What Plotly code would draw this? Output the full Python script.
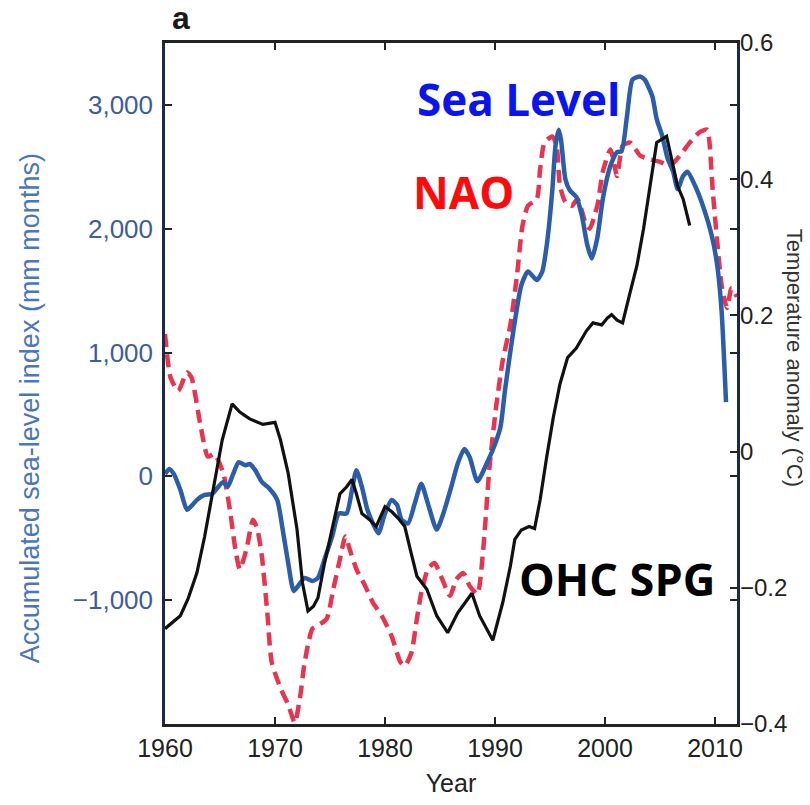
import plotly.graph_objects as go

# Accumulated sea-level index (mm months), left axis
sl_year = [1960.0, 1960.4, 1960.8, 1961.4, 1962.0, 1962.5, 1962.9, 1963.6, 1964.3, 1964.7,
           1965.3, 1965.7, 1966.2, 1966.7, 1967.3, 1967.7, 1968.2, 1968.8, 1969.5, 1970.2,
           1970.7, 1971.2, 1971.7, 1972.1, 1972.7, 1973.4, 1973.9, 1974.5, 1975.2, 1975.8,
           1976.5, 1977.0, 1977.4, 1977.9, 1978.4, 1978.9, 1979.4, 1980.0, 1980.6, 1981.1,
           1981.5, 1982.1, 1982.7, 1983.3, 1983.9, 1984.7, 1985.3, 1986.1, 1986.6, 1987.2,
           1987.7, 1988.4, 1989.3, 1990.0, 1990.5, 1990.9, 1991.4, 1991.8, 1992.4, 1993.0,
           1993.8, 1994.3, 1994.7, 1995.2, 1995.5, 1995.8, 1996.0, 1996.4, 1996.8, 1997.4,
           1997.9, 1998.4, 1998.8, 1999.3, 1999.8, 2000.5, 2001.1, 2001.5, 2002.0, 2002.5,
           2003.2, 2003.6, 2004.3, 2004.7, 2005.2, 2005.7, 2006.2, 2006.6, 2007.1, 2007.5,
           2008.2, 2008.9, 2009.7, 2010.2, 2010.6, 2011.0]
sl_value = [20, 60, 20, -110, -270, -230, -190, -150, -140, -100,
            -45, -85, 20, 115, 90, 100, 50, -45, -100, -190,
            -430, -700, -925, -885, -820, -845, -820, -670, -485, -300,
            -300, -110, 50, -85, -270, -380, -460, -300, -190, -230,
            -350, -380, -220, -60, -220, -430, -300, -60, 100, 220,
            155, -40, 115, 260, 400, 690, 1010, 1250, 1545, 1655,
            1585, 1655, 1865, 2300, 2670, 2800, 2720, 2400, 2310, 2255,
            2105, 1865, 1760, 1925, 2240, 2510, 2620, 2625, 2910, 3205,
            3230, 3205, 3070, 2885, 2750, 2565, 2460, 2320, 2425, 2460,
            2345, 2185, 1945, 1705, 1335, 600]

# Accumulated NAO (scaled), left axis
nao_year = [1960.0, 1960.5, 1961.2, 1962.0, 1962.4, 1963.2, 1963.9, 1964.5, 1965.3, 1965.9,
            1966.4, 1966.8, 1967.4, 1968.0, 1968.4, 1968.8, 1969.3, 1969.7, 1970.5, 1971.2,
            1971.8, 1972.3, 1972.7, 1973.4, 1973.9, 1974.7, 1975.3, 1975.9, 1976.4, 1976.8,
            1977.4, 1978.2, 1978.9, 1979.7, 1980.6, 1981.4, 1981.8, 1982.4, 1982.9, 1983.3,
            1983.9, 1984.5, 1985.2, 1985.9, 1986.5, 1987.1, 1987.7, 1988.4, 1988.9, 1989.5,
            1990.1, 1990.7, 1991.4, 1992.0, 1992.5, 1993.0, 1993.8, 1994.1, 1994.5, 1995.2,
            1995.6, 1995.9, 1996.4, 1997.0, 1997.5, 1998.2, 1998.6, 1999.3, 1999.8, 2000.5,
            2001.1, 2001.6, 2002.3, 2003.2, 2004.1, 2005.0, 2005.9, 2006.8, 2007.7, 2008.6,
            2009.3, 2009.5, 2009.8, 2010.2, 2010.6, 2011.1, 2011.5, 2012.0]
nao_value = [1150, 800, 690, 840, 800, 425, 160, 180, 25, -270,
             -590, -750, -590, -350, -430, -640, -1100, -1500, -1710, -1845,
             -1990, -1770, -1500, -1230, -1205, -1150, -910, -670, -485, -590,
             -750, -885, -1020, -1125, -1290, -1500, -1530, -1425, -1150, -940,
             -750, -700, -830, -965, -830, -780, -885, -950, -620, 75,
             560, 935, 1225, 1625, 2025, 2185, 2240, 2480, 2695, 2745,
             2670, 2350, 2215, 2185, 2240, 2055, 2000, 2185, 2460, 2640,
             2425, 2670, 2695, 2590, 2560, 2540, 2510, 2590, 2695, 2780,
             2800, 2695, 2300, 1900, 1545, 1360, 1520, 1450]

# Subpolar gyre ocean heat content, temperature anomaly (°C), right axis
ohc_year = [1960.0, 1960.3, 1961.4, 1962.1, 1962.9, 1963.6, 1964.4, 1965.2, 1966.1, 1966.8,
            1967.7, 1968.9, 1970.0, 1970.5, 1971.2, 1972.0, 1972.5, 1973.0, 1973.5, 1973.9,
            1974.5, 1975.2, 1975.9, 1976.5, 1977.0, 1977.4, 1977.9, 1978.6, 1979.2, 1980.0,
            1980.6, 1981.2, 1981.8, 1982.3, 1982.9, 1983.8, 1984.7, 1985.7, 1986.6, 1987.9,
            1988.6, 1989.8, 1990.7, 1991.4, 1991.8, 1992.4, 1993.1, 1993.6, 1994.1, 1994.7,
            1995.3, 1995.9, 1996.6, 1997.4, 1998.3, 1998.9, 1999.7, 2000.2, 2000.6, 2001.1,
            2001.6, 2002.3, 2002.9, 2003.5, 2004.1, 2004.7, 2005.6, 2006.1, 2006.6, 2007.1,
            2007.7]
ohc_value = [-0.260, -0.256, -0.241, -0.216, -0.178, -0.125, -0.052, 0.017, 0.070, 0.058,
             0.048, 0.040, 0.043, 0.017, -0.032, -0.114, -0.193, -0.234, -0.227, -0.215,
             -0.164, -0.114, -0.062, -0.052, -0.041, -0.062, -0.091, -0.100, -0.110, -0.081,
             -0.088, -0.098, -0.110, -0.144, -0.183, -0.202, -0.241, -0.266, -0.237, -0.208,
             -0.241, -0.277, -0.222, -0.168, -0.129, -0.115, -0.110, -0.113, -0.071, -0.008,
             0.050, 0.099, 0.138, 0.152, 0.177, 0.189, 0.186, 0.196, 0.201, 0.193,
             0.189, 0.235, 0.273, 0.327, 0.390, 0.454, 0.463, 0.429, 0.390, 0.371,
             0.332]

x_ticks = [1960, 1970, 1980, 1990, 2000, 2010]
left_ticks = [-1000, 0, 1000, 2000, 3000]
left_labels = ["\u22121,000", "0", "1,000", "2,000", "3,000"]
right_ticks = [-0.4, -0.2, 0, 0.2, 0.4, 0.6]
right_labels = ["\u22120.4", "\u22120.2", "0", "0.2", "0.4", "0.6"]

TICK_FONT = "Liberation Sans, Arial, sans-serif"
LABEL_FONT = "Open Sans, sans-serif"

fig = go.Figure()

fig.add_trace(go.Scatter(
    x=nao_year, y=nao_value, mode="lines", name="NAO",
    line=dict(color="#e8344f", width=4.5, dash="13px,7px", shape="spline", smoothing=0.6),
))
fig.add_trace(go.Scatter(
    x=sl_year, y=sl_value, mode="lines", name="Sea Level",
    line=dict(color="#2b5dab", width=4.5, shape="spline", smoothing=0.6),
))
fig.add_trace(go.Scatter(
    x=ohc_year, y=ohc_value, mode="lines", name="OHC SPG", yaxis="y2",
    line=dict(color="#111111", width=3.2),
))


def label(text, x, y, size, color, family=LABEL_FONT, angle=0):
    return dict(text=text, xref="paper", yref="paper", x=x, y=y,
                xanchor="center", yanchor="middle", textangle=angle,
                showarrow=False, font=dict(family=family, size=size, color=color))


fig.update_layout(
    width=810, height=805,
    margin=dict(l=165, r=73, t=43, b=76, pad=0),
    paper_bgcolor="white", plot_bgcolor="white",
    showlegend=False,
    xaxis=dict(
        range=[1960, 2012], tickvals=x_ticks,
        ticks="inside", ticklen=7, tickwidth=1.5, tickcolor="#222",
        showline=True, linecolor="#222", linewidth=2.5, mirror="ticks",
        showgrid=False, zeroline=False,
        tickfont=dict(family=TICK_FONT, size=25, color="#222"),
        title=dict(text="Year", font=dict(family=TICK_FONT, size=25, color="#222"), standoff=14),
    ),
    yaxis=dict(
        range=[-2000, 3500], tickvals=left_ticks, ticktext=left_labels,
        ticks="inside", ticklen=7, tickwidth=1.5, tickcolor="#222",
        showline=True, linecolor="#1d2a45", linewidth=2.5, mirror="ticks",
        showgrid=False, zeroline=False,
        ticklabelstandoff=4,
        tickfont=dict(family=TICK_FONT, size=26, color="#3d5d9c"),
    ),
    yaxis2=dict(
        range=[-0.4, 0.6], tickvals=right_ticks, ticktext=right_labels,
        overlaying="y", side="right",
        ticks="inside", ticklen=7, tickwidth=1.5, tickcolor="#222",
        showline=False, showgrid=False, zeroline=False,
        ticklabelstandoff=2,
        tickfont=dict(family=TICK_FONT, size=24, color="#222"),
    ),
    annotations=[
        label("<b>Sea Level</b>", 0.619, 0.918, 44, "#0a14f0"),
        label("<b>NAO</b>", 0.521, 0.781, 44, "#ff0a0a"),
        label("<b>OHC SPG</b>", 0.790, 0.213, 45, "#000000"),
        label("<b>a</b>", 0.028, 1.036, 32, "#1a1a1a", family=TICK_FONT),
        label("Accumulated sea-level index (mm months)", -0.236, 0.4636, 27, "#4a76bd",
              family=TICK_FONT, angle=-90),
        label("Temperature anomaly (\u00b0C)", 1.101, 0.538, 22, "#333", family=TICK_FONT, angle=90),
    ],
)

fig.write_html("out.html")
